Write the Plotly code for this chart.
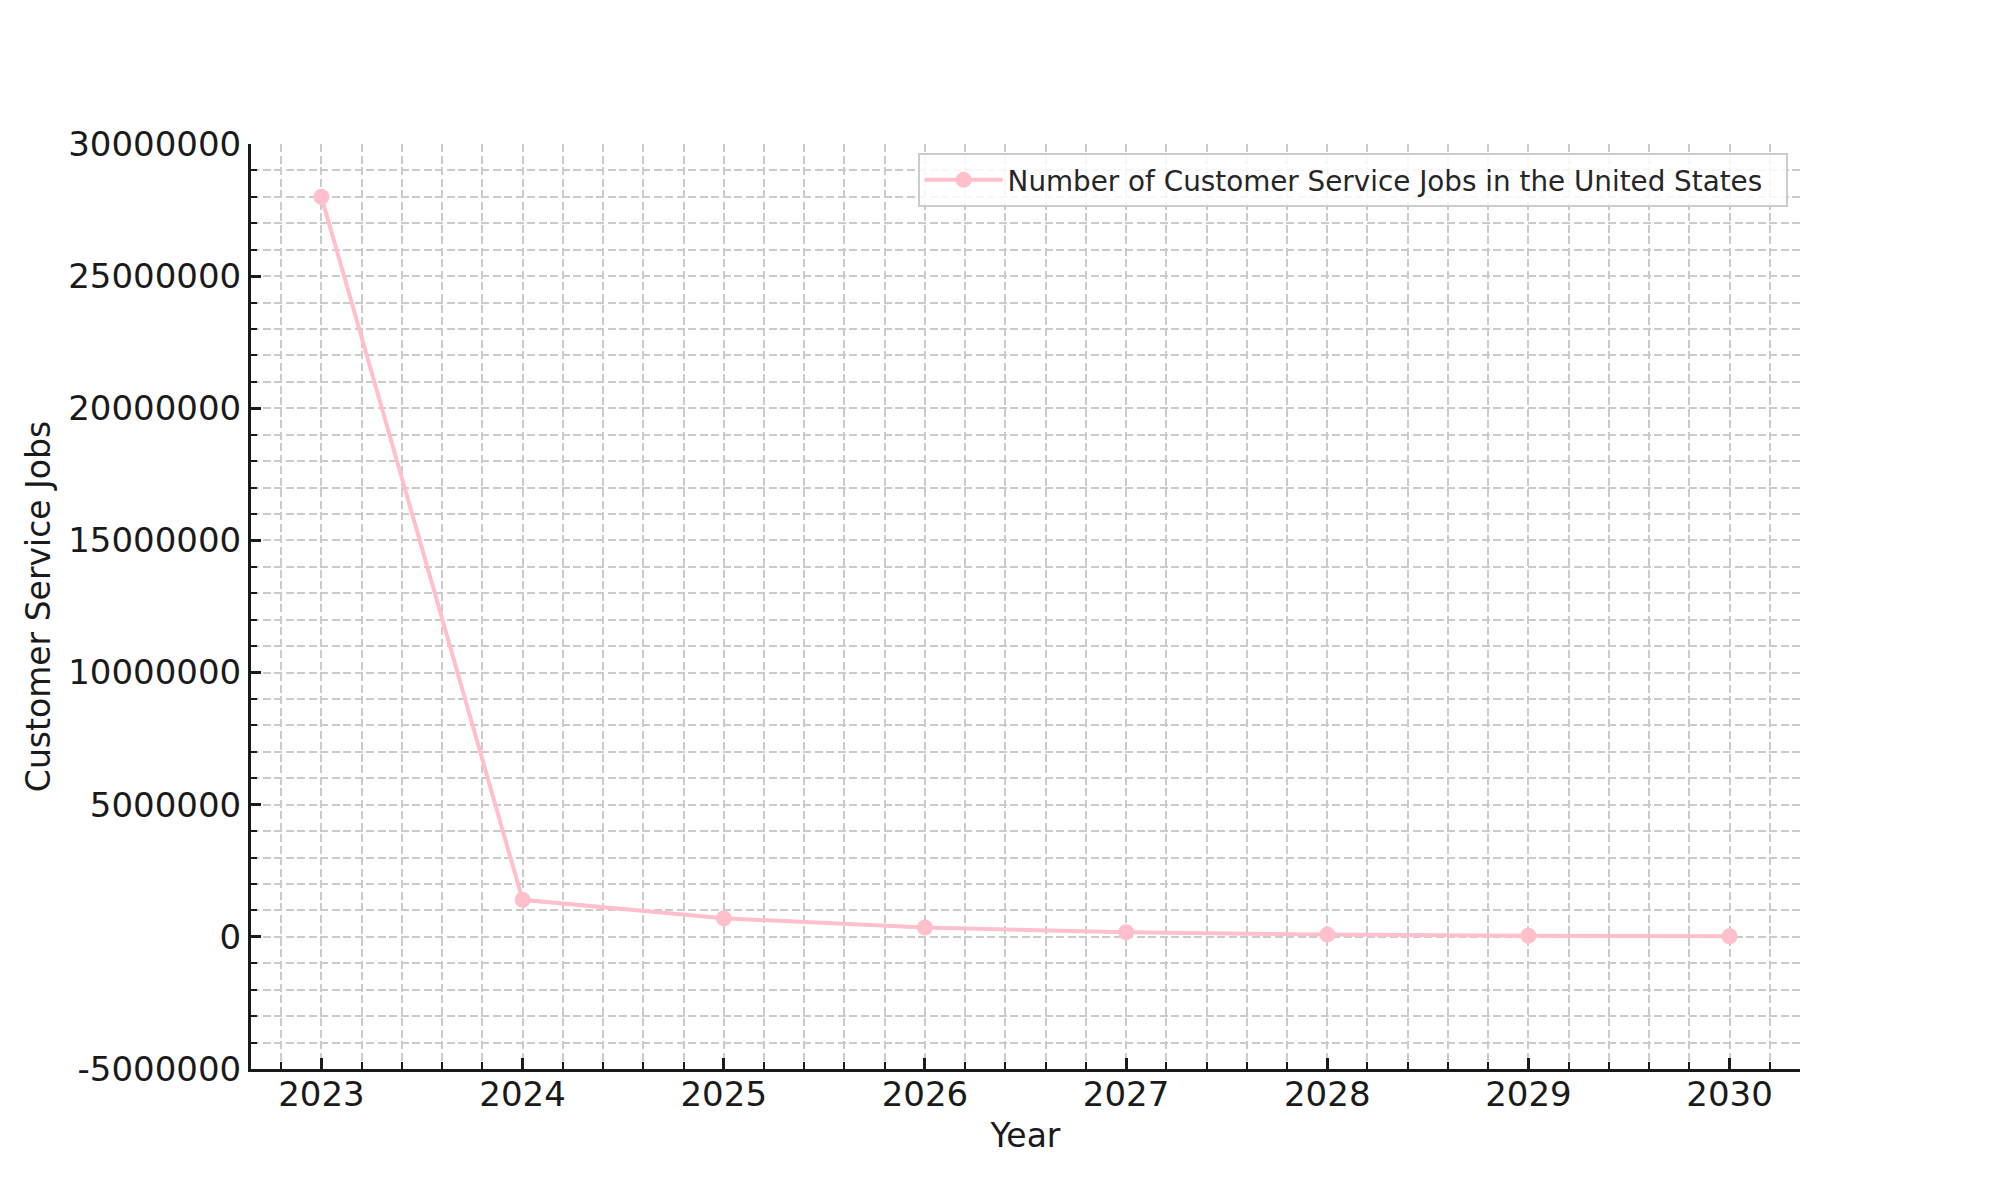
import plotly.graph_objects as go

# data
years = [2023, 2024, 2025, 2026, 2027, 2028, 2029, 2030]
jobs = [28000000, 1400000, 700000, 350000, 175000, 87500, 43750, 21875]
series_name = 'Number of Customer Service Jobs in the United States'
y_ticks = [-5000000, 0, 5000000, 10000000, 15000000, 20000000, 25000000, 30000000]

font_family = 'DejaVu Sans'
grid_color = '#cbcbcb'
grid_dash = '8px,3.5px'

fig = go.Figure()

fig.add_trace(go.Scatter(
    x=years,
    y=jobs,
    mode='lines+markers',
    name=series_name + '\u00a0\u00a0',
    line=dict(color='pink', width=4),
    marker=dict(size=16, color='pink')
))

# the page body adds an 8px offset, so margins are shifted by that much
fig.update_layout(
    width=2000,
    height=1200,
    margin=dict(l=243, r=208, t=136, b=139),
    paper_bgcolor='white',
    plot_bgcolor='white',
    font=dict(family=font_family, size=34, color='#1a1a1a'),
    showlegend=True,
    legend=dict(
        x=0.992, y=0.99, xanchor='right', yanchor='top',
        bgcolor='rgba(255,255,255,0.85)',
        bordercolor='#cccccc', borderwidth=2,
        font=dict(size=27.8, color='#262626'),
        itemwidth=78
    )
)

fig.update_xaxes(
    title=dict(text='Year', standoff=12, font=dict(size=33)),
    automargin=False,
    range=[2022.65, 2030.35],
    tick0=2023, dtick=1,
    tickformat='d',
    ticklabelstandoff=-7,
    showline=True, linecolor='#1a1a1a', linewidth=3,
    ticks='inside', ticklen=11, tickwidth=2.5, tickcolor='#1a1a1a',
    showgrid=True, gridcolor=grid_color, gridwidth=2, griddash=grid_dash,
    zeroline=False,
    minor=dict(dtick=0.2, tick0=2023, ticks='inside', ticklen=7, tickwidth=2,
               tickcolor='#1a1a1a', showgrid=True, gridcolor=grid_color,
               gridwidth=2, griddash=grid_dash)
)

fig.update_yaxes(
    title=dict(text='Customer Service Jobs', standoff=8, font=dict(size=33)),
    automargin=False,
    range=[-5000000, 30000000],
    tickvals=y_ticks,
    ticktext=[str(v) for v in y_ticks],
    showline=True, linecolor='#1a1a1a', linewidth=3,
    ticks='inside', ticklen=10, tickwidth=2.5, tickcolor='#1a1a1a',
    showgrid=True, gridcolor=grid_color, gridwidth=2, griddash=grid_dash,
    zeroline=False,
    minor=dict(dtick=1000000, tick0=0, ticks='inside', ticklen=6, tickwidth=2,
               tickcolor='#1a1a1a', showgrid=True, gridcolor=grid_color,
               gridwidth=2, griddash=grid_dash)
)

fig.write_html("out.html")
